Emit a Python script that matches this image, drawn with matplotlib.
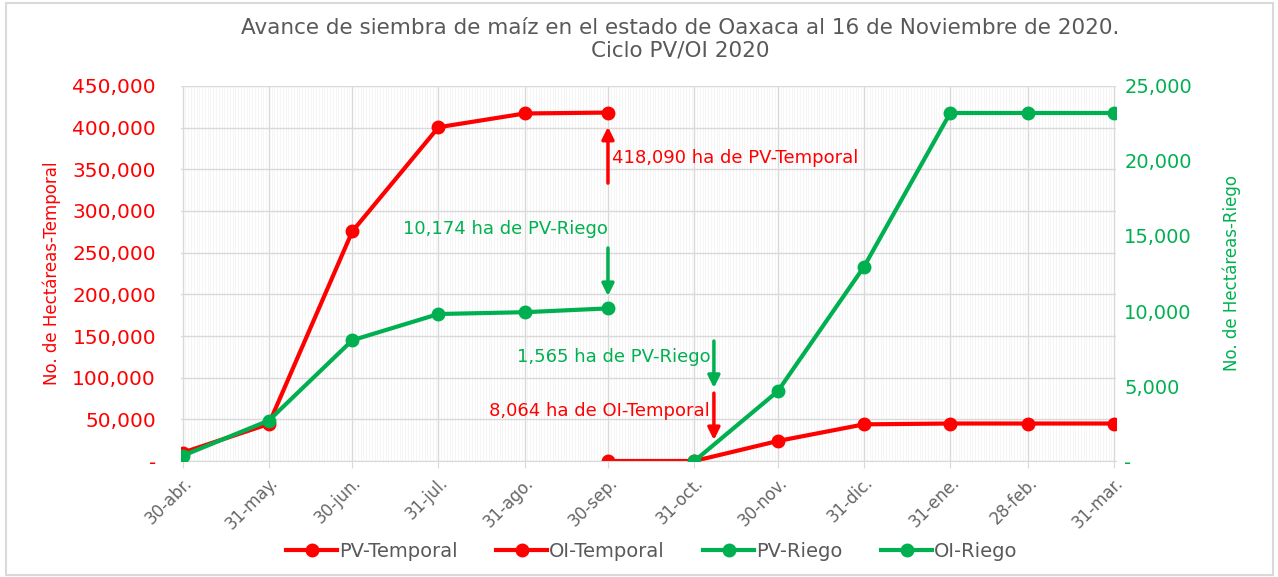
import matplotlib
matplotlib.use("Agg")
import matplotlib.pyplot as plt
import matplotlib.dates as mdates
import matplotlib.ticker as mticker
import matplotlib.patches as mp
import numpy as np
from datetime import date

RED = "#FF0000"
GREEN = "#00B050"
GRAY = "#595959"

fechas = [date(2020, 4, 30), date(2020, 5, 31), date(2020, 6, 30), date(2020, 7, 31),
          date(2020, 8, 31), date(2020, 9, 30), date(2020, 10, 31), date(2020, 11, 30),
          date(2020, 12, 31), date(2021, 1, 31), date(2021, 2, 28), date(2021, 3, 31)]
etiquetas = ["30-abr.", "31-may.", "30-jun.", "31-jul.", "31-ago.", "30-sep.",
             "31-oct.", "30-nov.", "31-dic.", "31-ene.", "28-feb.", "31-mar."]

nan = np.nan
pv_temporal = [10000, 44500, 275500, 400500, 417000, 418090, nan, nan, nan, nan, nan, nan]
oi_temporal = [nan, nan, nan, nan, nan, 0, 0, 24000, 44000, 45000, 45000, 45000]
pv_riego = [350, 2700, 8050, 9800, 9920, 10174, nan, nan, nan, nan, nan, nan]
oi_riego = [nan, nan, nan, nan, nan, nan, 0, 4650, 12950, 23200, 23200, 23200]

plt.rcParams['font.family'] = ['DejaVu Sans']

fig = plt.figure(figsize=(12.78, 5.77), dpi=100)
ax = fig.add_axes([0.1416, 0.201, 0.7316, 0.650])
ax2 = ax.twinx()

line_kw = dict(lw=3, marker='o', markersize=9)
l1, = ax.plot(fechas, pv_temporal, color=RED, label="PV-Temporal", **line_kw)
l2, = ax.plot(fechas, oi_temporal, color=RED, label="OI-Temporal", **line_kw)
l3, = ax2.plot(fechas, pv_riego, color=GREEN, label="PV-Riego", **line_kw)
l4, = ax2.plot(fechas, oi_riego, color=GREEN, label="OI-Riego", **line_kw)

ax.set_ylim(0, 450000)
ax2.set_ylim(0, 25000)
ax.yaxis.set_major_locator(mticker.MultipleLocator(50000))
ax2.yaxis.set_major_locator(mticker.MultipleLocator(5000))

def fmt(v, pos):
    return "-" if v == 0 else "{:,.0f}".format(v)

ax.yaxis.set_major_formatter(mticker.FuncFormatter(fmt))
ax2.yaxis.set_major_formatter(mticker.FuncFormatter(fmt))

x0 = mdates.date2num(fechas[0]) - 0.6
x1 = mdates.date2num(fechas[-1]) + 0.6
ax.set_xlim(x0, x1)
ax.set_xticks(mdates.date2num(fechas))
ax.set_xticklabels(etiquetas, rotation=45, ha='right', rotation_mode='anchor')
ax.xaxis.set_minor_locator(mdates.DayLocator())

ax.grid(True, which='major', color='#D9D9D9', lw=1)
ax.grid(True, which='minor', axis='x', color='#F2F2F2', lw=0.5)
ax.set_axisbelow(True)

for a in (ax, ax2):
    for s in a.spines.values():
        s.set_visible(False)
ax.spines['bottom'].set_visible(True)
ax.spines['bottom'].set_color('#D9D9D9')

ax.tick_params(axis='x', which='major', length=5, color='#D9D9D9', labelcolor='#666666',
               labelsize=12, pad=4)
ax.tick_params(axis='x', which='minor', length=0)
ax.tick_params(axis='y', length=0, labelcolor=RED, labelsize=14.5, pad=18)
ax2.tick_params(axis='y', length=0, labelcolor=GREEN, labelsize=14, pad=6)

ax.set_ylabel("No. de Hectáreas-Temporal", color=RED, fontsize=12, labelpad=8)
ax2.set_ylabel("No. de Hectáreas-Riego", color=GREEN, fontsize=12, labelpad=22)

def nota(texto, color, tx, ty, ha, ax0, ay0, ay1):
    ax.annotate("", xy=(ax0, ay1), xytext=(ax0, ay0), xycoords='axes fraction',
                arrowprops=dict(arrowstyle='-|>', color=color, lw=2.5, mutation_scale=18,
                                shrinkA=0, shrinkB=0))
    ax.text(tx, ty, texto, color=color, fontsize=13, ha=ha, va='center',
            transform=ax.transAxes)

nota("418,090 ha de PV-Temporal", RED, 0.461, 0.808, 'left', 0.4567, 0.741, 0.891)
nota("10,174 ha de PV-Riego", GREEN, 0.4567, 0.619, 'right', 0.4567, 0.568, 0.44)
nota("1,565 ha de PV-Riego", GREEN, 0.566, 0.277, 'right', 0.570, 0.32, 0.195)
nota("8,064 ha de OI-Temporal", RED, 0.566, 0.133, 'right', 0.570, 0.181, 0.056)

fig.text(0.532, 0.932, "Avance de siembra de maíz en el estado de Oaxaca al 16 de Noviembre de 2020.\nCiclo PV/OI 2020",
         ha='center', va='center', fontsize=15.5, color=GRAY, linespacing=1.15)

fig.legend(handles=[l1, l2, l3, l4], loc='center', bbox_to_anchor=(0.51, 0.045), ncol=4,
           frameon=False, fontsize=14, labelcolor=GRAY, handlelength=2.6,
           columnspacing=2.0, handletextpad=0.1)

fig.add_artist(mp.Rectangle((0.005, 0.004), 0.991, 0.991, transform=fig.transFigure,
                            fill=False, edgecolor='#D9D9D9', lw=1.5))

fig.savefig("out.png", dpi=100)
